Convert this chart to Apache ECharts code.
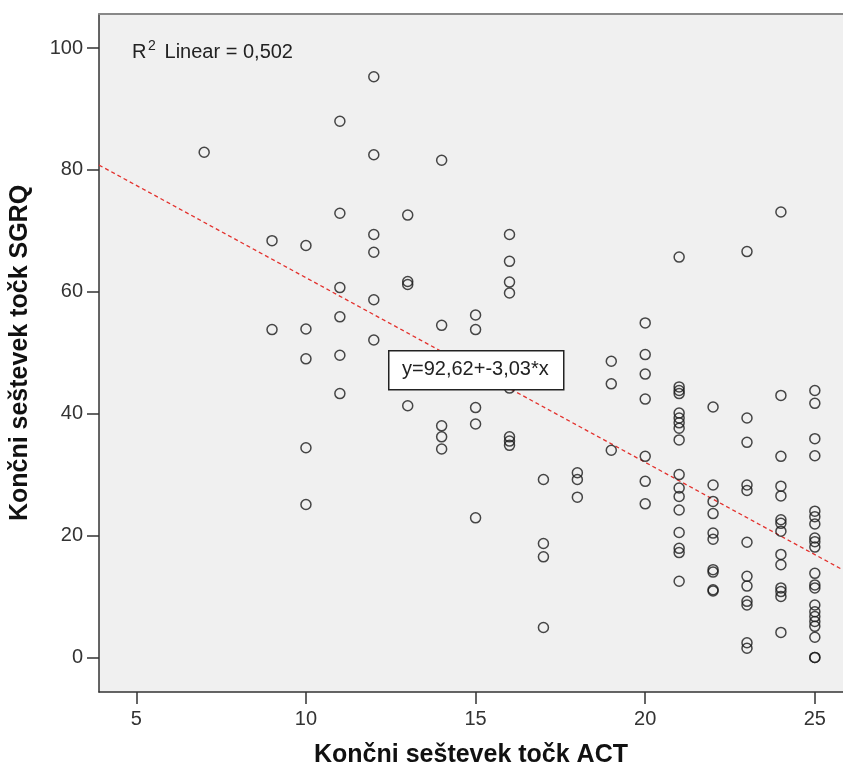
<!DOCTYPE html>
<html>
<head>
<meta charset="utf-8">
<script src="https://cdn.jsdelivr.net/npm/echarts@6/dist/echarts.min.js"></script>
<style>
html,body{margin:0;padding:0;background:#fff;}
#chart{width:843px;height:772px;}
</style>
</head>
<body>
<div id="chart"></div>
<script>
// ACT score (x) and SGRQ score (y)
const act = [
  7,
  9, 9,
  10, 10, 10, 10, 10,
  11, 11, 11, 11, 11, 11,
  12, 12, 12, 12, 12, 12,
  13, 13, 13, 13,
  14, 14, 14, 14, 14,
  15, 15, 15, 15, 15,
  16, 16, 16, 16, 16, 16, 16, 16,
  17, 17, 17, 17,
  18, 18, 18,
  19, 19, 19,
  20, 20, 20, 20, 20, 20, 20,
  21, 21, 21, 21, 21, 21, 21, 21, 21, 21, 21, 21, 21, 21, 21, 21, 21,
  22, 22, 22, 22, 22, 22, 22, 22, 22, 22,
  23, 23, 23, 23, 23, 23, 23, 23, 23, 23, 23, 23,
  24, 24, 24, 24, 24, 24, 24, 24, 24, 24, 24, 24, 24, 24,
  25, 25, 25, 25, 25, 25, 25, 25, 25, 25, 25, 25, 25, 25, 25, 25, 25, 25, 25, 25, 25
];
const sgrq = [
  82.9,
  68.4, 53.8,
  67.6, 53.9, 49.0, 34.4, 25.1,
  88.0, 72.9, 60.7, 55.9, 49.6, 43.3,
  95.3, 82.5, 69.4, 66.5, 58.7, 52.1,
  72.6, 61.7, 61.2, 41.3,
  81.6, 54.5, 38.0, 36.2, 34.2,
  56.2, 53.8, 41.0, 38.3, 22.9,
  69.4, 65.0, 61.6, 59.8, 44.2, 36.2, 35.5, 34.8,
  29.2, 18.7, 16.5, 4.9,
  30.3, 29.2, 26.3,
  48.6, 44.9, 34.0,
  54.9, 49.7, 46.5, 42.4, 33.0, 28.9, 25.2,
  65.7, 44.4, 43.8, 43.3, 40.1, 39.3, 38.5, 37.6, 35.7, 30.0, 27.8, 26.4, 24.2, 20.5, 17.9, 17.2, 12.5,
  41.1, 28.3, 25.6, 23.6, 20.4, 19.4, 14.4, 14.0, 11.1, 10.9,
  66.6, 39.3, 35.3, 28.3, 27.4, 18.9, 13.3, 11.7, 9.2, 8.6, 2.4, 1.5,
  73.1, 43.0, 33.0, 28.1, 26.5, 22.6, 22.0, 20.7, 16.9, 15.2, 11.4, 10.8, 10.0, 4.1,
  43.8, 41.7, 35.9, 33.1, 24.0, 23.1, 21.9, 19.6, 19.0, 18.1, 13.8, 11.9, 11.4, 8.6, 7.5, 6.7, 5.9, 5.1, 3.3, 0, 0
];
const xTicks = [5, 10, 15, 20, 25];
const yTicks = [0, 20, 40, 60, 80, 100];
const xRange = [3.9, 25.83];
const yRange = [-5.68, 105.6];
const fitIntercept = 92.62;
const fitSlope = -3.03;
const fitLabel = 'y=92,62+-3,03*x';
const r2Text = ' Linear = 0,502';

const FONT = "'Liberation Sans', Arial, sans-serif";
const points = act.map((x, i) => [x, sgrq[i]]);
const fitLine = xRange.map(x => [x, fitIntercept + fitSlope * x]);

const chart = echarts.init(document.getElementById('chart'));
chart.setOption({
  animation: false,
  backgroundColor: '#ffffff',
  grid: {left: 99, right: 0, top: 14, bottom: 80, show: true, backgroundColor: '#f0f0f0', borderWidth: 0,
    containLabel: false, outerBoundsMode: 'none'},
  xAxis: [{
    type: 'value', min: xRange[0], max: xRange[1],
    axisLine: {show: true, onZero: false, lineStyle: {color: '#333', width: 1.5}},
    axisTick: {show: true, length: 12, customValues: xTicks, lineStyle: {color: '#333', width: 1.5}},
    axisLabel: {customValues: xTicks, margin: 17, fontSize: 20, color: '#333', fontFamily: FONT},
    splitLine: {show: false},
    name: 'Končni seštevek točk ACT', nameLocation: 'middle', nameGap: 51,
    nameTextStyle: {fontSize: 25, fontWeight: 'bold', color: '#111', fontFamily: FONT}
  }, {
    type: 'value', position: 'top', min: xRange[0], max: xRange[1],
    axisLine: {show: true, onZero: false, lineStyle: {color: '#888', width: 2}},
    axisTick: {show: false}, axisLabel: {show: false}, splitLine: {show: false}
  }],
  yAxis: {
    type: 'value', min: yRange[0], max: yRange[1],
    axisLine: {show: true, onZero: false, lineStyle: {color: '#333', width: 1.5}},
    axisTick: {show: true, length: 12, customValues: yTicks, lineStyle: {color: '#333', width: 1.5}},
    axisLabel: {customValues: yTicks, margin: 16, fontSize: 20, color: '#333', fontFamily: FONT},
    splitLine: {show: false},
    name: 'Končni seštevek točk SGRQ', nameLocation: 'middle', nameGap: 66, nameRotate: 90,
    nameTextStyle: {fontSize: 25, fontWeight: 'bold', color: '#111', fontFamily: FONT}
  },
  series: [{
    type: 'line', data: fitLine, symbol: 'none', silent: true, z: 1,
    lineStyle: {color: '#e3312d', width: 1.3, type: [4, 3]}
  }, {
    type: 'scatter', data: points, symbol: 'circle', symbolSize: 10, z: 2,
    itemStyle: {color: 'rgba(0,0,0,0)', borderColor: '#1a1a1a', borderWidth: 1.5}
  }],
  graphic: [
    {type: 'text', left: 132, top: 42, z: 100,
      style: {text: 'R', fontSize: 20, fontFamily: FONT, fill: '#222'}},
    {type: 'text', left: 148, top: 39, z: 100,
      style: {text: '2', fontSize: 14, fontFamily: FONT, fill: '#222'}},
    {type: 'text', left: 159, top: 42, z: 100,
      style: {text: r2Text, fontSize: 20, fontFamily: FONT, fill: '#222'}},
    {type: 'rect', left: 388, top: 350, z: 100,
      shape: {width: 175, height: 39},
      style: {fill: '#ffffff', stroke: '#222', lineWidth: 1.5}},
    {type: 'text', left: 402, top: 359, z: 101,
      style: {text: fitLabel, fontSize: 20, fontFamily: FONT, fill: '#222'}}
  ]
});
</script>
</body>
</html>
